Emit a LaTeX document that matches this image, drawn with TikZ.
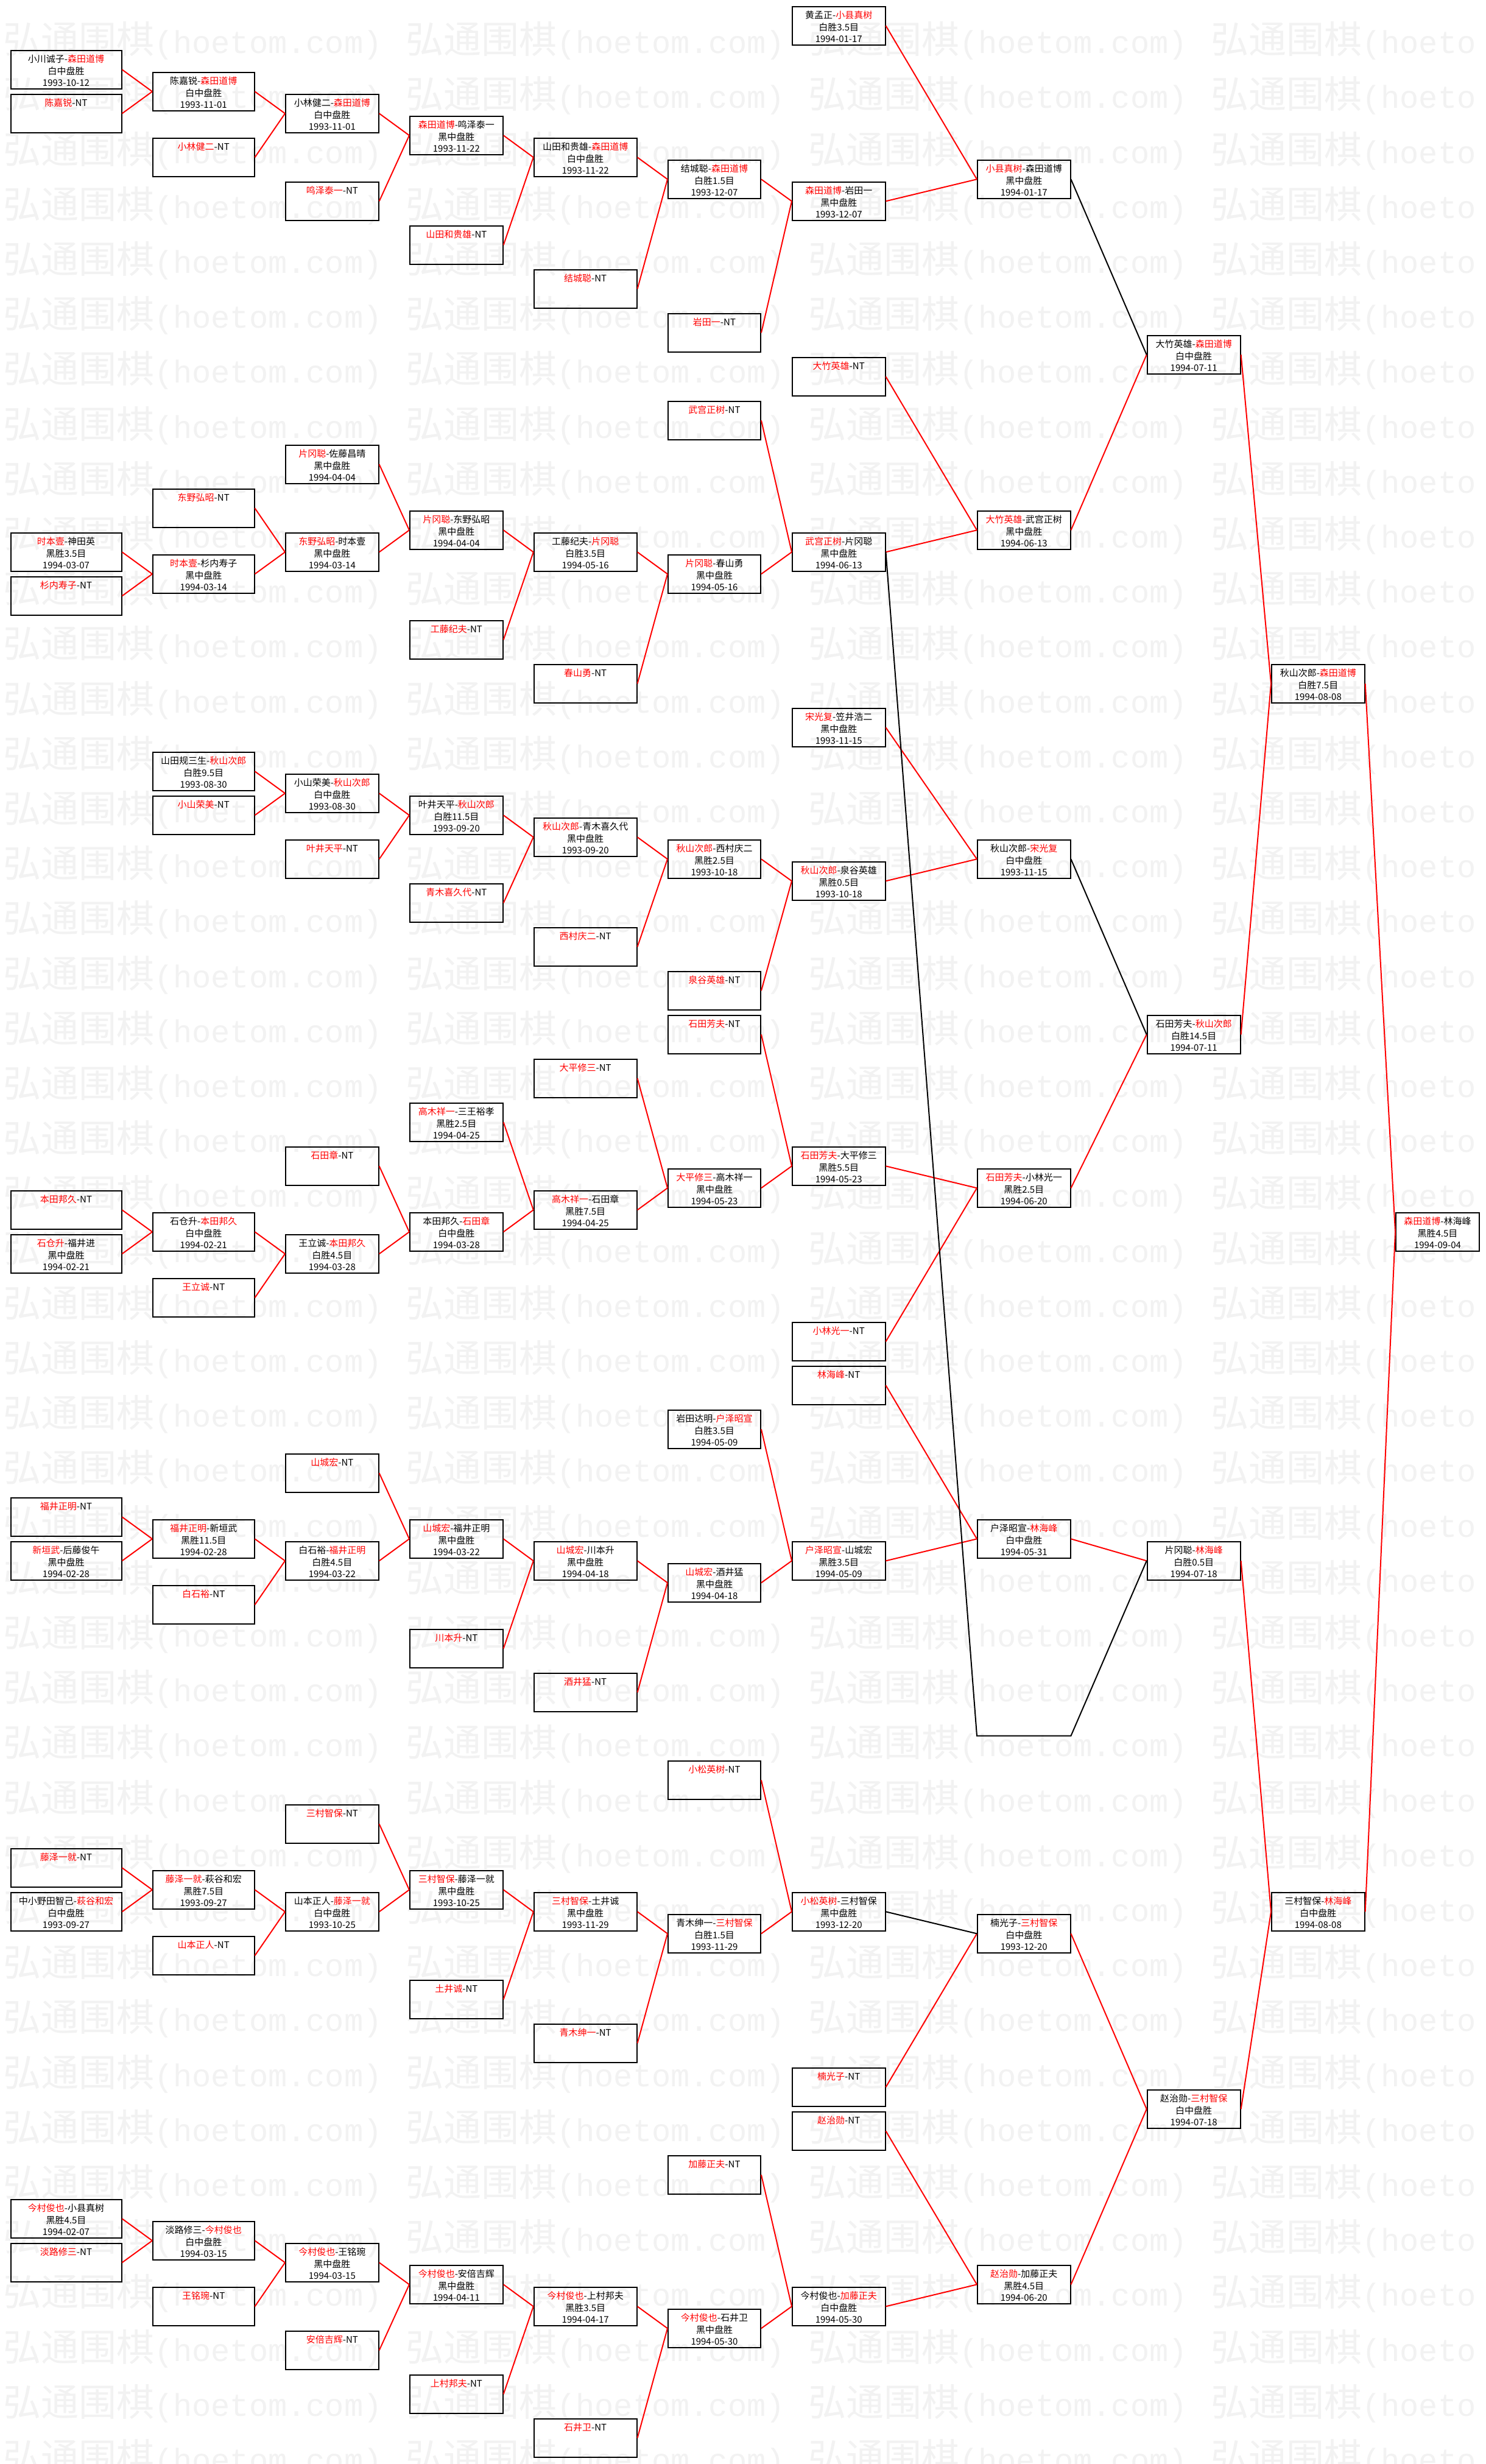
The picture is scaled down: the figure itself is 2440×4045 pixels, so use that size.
\documentclass[tikz,border=0pt]{standalone}
\usepackage{fontspec}
\setmainfont{Noto Sans CJK SC}
\newfontfamily\wmmono{Liberation Mono}
\newcommand\rd[1]{\textcolor{red}{#1}}
% column centres and box widths (px = pt)
\def\cxA{108.5}\def\cwA{182}
\def\cxB{334.25}\def\cwB{166.5}
\def\cxC{545.35}\def\cwC{152.7}
\def\cxD{749.35}\def\cwD{152.7}
\def\cxE{961.2}\def\cwE{168.8}
\def\cxF{1173}\def\cwF{152}
\def\cxG{1377.25}\def\cwG{152.5}
\def\cxH{1681.25}\def\cwH{152.5}
\def\cxI{1960.2}\def\cwI{153}
\def\cxJ{2164.35}\def\cwJ{152.7}
\def\cxK{2360.5}\def\cwK{137}
\tikzset{
  gbox/.style={draw=black, line width=2pt, rectangle, minimum height=63pt, inner sep=0pt},
  gtxt/.style={anchor=north, align=center, inner sep=0pt, font=\fontsize{15}{19.5}\selectfont},
  rl/.style={draw=red, line width=2pt},
  bl/.style={draw=black, line width=2pt},
  wm/.style={anchor=west, inner sep=0pt, text=black!5, font=\fontsize{62}{70}\selectfont},
}
% \gm{id}{column}{half-row}{line1}{line2}{line3}
\newcommand\gm[6]{%
  \pgfmathsetmacro\gmT{9.8+36*#3}%
  \pgfmathsetmacro\gmY{\gmT+32.5}%
  \pgfmathsetmacro\gmTy{\gmT+7}%
  \edef\gmX{\csname cx#2\endcsname}%
  \edef\gmW{\csname cw#2\endcsname}%
  \node[gbox, minimum width=\gmW pt] (#1) at (\gmX,\gmY) {};
  \node[gtxt] (#1t) at (\gmX,\gmTy) {\strut #4\\\strut #5\\\strut #6};
}
\begin{document}
\begin{tikzpicture}[x=1pt,y=-1pt]
\useasboundingbox (0,0) rectangle (2440,4045);
\fill[white] (0,0) rectangle (2440,4045);
\begin{scope}
\clip (0,0) rectangle (2440,4045);
\foreach \wr in {0,...,44}{
  \foreach \wc in {0,1,2}{
    \node[wm] (wm-\wr-\wc) at ({5+661*\wc},{67+90.2*\wr}) {弘通围棋{\wmmono\fontsize{52}{60}\selectfont (hoetom.com)}};
  }
  \node[wm] (wm-\wr-3) at ({5+661*3},{67+90.2*\wr}) {弘通围棋{\wmmono\fontsize{52}{60}\selectfont (hoeto}};
}
\end{scope}

% ---------------- column A
\gm{a1}{A}{2}{小川诚子-\rd{森田道博}}{白中盘胜}{1993-10-12}
\gm{a2}{A}{4}{\rd{陈嘉锐}-NT}{}{}
\gm{a3}{A}{24}{\rd{时本壹}-神田英}{黑胜3.5目}{1994-03-07}
\gm{a4}{A}{26}{\rd{杉内寿子}-NT}{}{}
\gm{a5}{A}{54}{\rd{本田邦久}-NT}{}{}
\gm{a6}{A}{56}{\rd{石仓升}-福井进}{黑中盘胜}{1994-02-21}
\gm{a7}{A}{68}{\rd{福井正明}-NT}{}{}
\gm{a8}{A}{70}{\rd{新垣武}-后藤俊午}{黑中盘胜}{1994-02-28}
\gm{a9}{A}{84}{\rd{藤泽一就}-NT}{}{}
\gm{a10}{A}{86}{中小野田智己-\rd{萩谷和宏}}{白中盘胜}{1993-09-27}
\gm{a11}{A}{100}{\rd{今村俊也}-小县真树}{黑胜4.5目}{1994-02-07}
\gm{a12}{A}{102}{\rd{淡路修三}-NT}{}{}
% ---------------- column B
\gm{b1}{B}{3}{陈嘉锐-\rd{森田道博}}{白中盘胜}{1993-11-01}
\gm{b2}{B}{6}{\rd{小林健二}-NT}{}{}
\gm{b3}{B}{22}{\rd{东野弘昭}-NT}{}{}
\gm{b4}{B}{25}{\rd{时本壹}-杉内寿子}{黑中盘胜}{1994-03-14}
\gm{b5}{B}{34}{山田规三生-\rd{秋山次郎}}{白胜9.5目}{1993-08-30}
\gm{b6}{B}{36}{\rd{小山荣美}-NT}{}{}
\gm{b7}{B}{55}{石仓升-\rd{本田邦久}}{白中盘胜}{1994-02-21}
\gm{b8}{B}{58}{\rd{王立诚}-NT}{}{}
\gm{b9}{B}{69}{\rd{福井正明}-新垣武}{黑胜11.5目}{1994-02-28}
\gm{b10}{B}{72}{\rd{白石裕}-NT}{}{}
\gm{b11}{B}{85}{\rd{藤泽一就}-萩谷和宏}{黑胜7.5目}{1993-09-27}
\gm{b12}{B}{88}{\rd{山本正人}-NT}{}{}
\gm{b13}{B}{101}{淡路修三-\rd{今村俊也}}{白中盘胜}{1994-03-15}
\gm{b14}{B}{104}{\rd{王铭琬}-NT}{}{}
% ---------------- column C
\gm{c1}{C}{4}{小林健二-\rd{森田道博}}{白中盘胜}{1993-11-01}
\gm{c2}{C}{8}{\rd{鸣泽泰一}-NT}{}{}
\gm{c3}{C}{20}{\rd{片冈聪}-佐藤昌晴}{黑中盘胜}{1994-04-04}
\gm{c4}{C}{24}{\rd{东野弘昭}-时本壹}{黑中盘胜}{1994-03-14}
\gm{c5}{C}{35}{小山荣美-\rd{秋山次郎}}{白中盘胜}{1993-08-30}
\gm{c6}{C}{38}{\rd{叶井天平}-NT}{}{}
\gm{c7}{C}{52}{\rd{石田章}-NT}{}{}
\gm{c8}{C}{56}{王立诚-\rd{本田邦久}}{白胜4.5目}{1994-03-28}
\gm{c9}{C}{66}{\rd{山城宏}-NT}{}{}
\gm{c10}{C}{70}{白石裕-\rd{福井正明}}{白胜4.5目}{1994-03-22}
\gm{c11}{C}{82}{\rd{三村智保}-NT}{}{}
\gm{c12}{C}{86}{山本正人-\rd{藤泽一就}}{白中盘胜}{1993-10-25}
\gm{c13}{C}{102}{\rd{今村俊也}-王铭琬}{黑中盘胜}{1994-03-15}
\gm{c14}{C}{106}{\rd{安倍吉辉}-NT}{}{}
% ---------------- column D
\gm{d1}{D}{5}{\rd{森田道博}-鸣泽泰一}{黑中盘胜}{1993-11-22}
\gm{d2}{D}{10}{\rd{山田和贵雄}-NT}{}{}
\gm{d3}{D}{23}{\rd{片冈聪}-东野弘昭}{黑中盘胜}{1994-04-04}
\gm{d4}{D}{28}{\rd{工藤纪夫}-NT}{}{}
\gm{d5}{D}{36}{叶井天平-\rd{秋山次郎}}{白胜11.5目}{1993-09-20}
\gm{d6}{D}{40}{\rd{青木喜久代}-NT}{}{}
\gm{d7}{D}{50}{\rd{高木祥一}-三王裕孝}{黑胜2.5目}{1994-04-25}
\gm{d8}{D}{55}{本田邦久-\rd{石田章}}{白中盘胜}{1994-03-28}
\gm{d9}{D}{69}{\rd{山城宏}-福井正明}{黑中盘胜}{1994-03-22}
\gm{d10}{D}{74}{\rd{川本升}-NT}{}{}
\gm{d11}{D}{85}{\rd{三村智保}-藤泽一就}{黑中盘胜}{1993-10-25}
\gm{d12}{D}{90}{\rd{土井诚}-NT}{}{}
\gm{d13}{D}{103}{\rd{今村俊也}-安倍吉辉}{黑中盘胜}{1994-04-11}
\gm{d14}{D}{108}{\rd{上村邦夫}-NT}{}{}
% ---------------- column E
\gm{e1}{E}{6}{山田和贵雄-\rd{森田道博}}{白中盘胜}{1993-11-22}
\gm{e2}{E}{12}{\rd{结城聪}-NT}{}{}
\gm{e3}{E}{24}{工藤纪夫-\rd{片冈聪}}{白胜3.5目}{1994-05-16}
\gm{e4}{E}{30}{\rd{春山勇}-NT}{}{}
\gm{e5}{E}{37}{\rd{秋山次郎}-青木喜久代}{黑中盘胜}{1993-09-20}
\gm{e6}{E}{42}{\rd{西村庆二}-NT}{}{}
\gm{e7}{E}{48}{\rd{大平修三}-NT}{}{}
\gm{e8}{E}{54}{\rd{高木祥一}-石田章}{黑胜7.5目}{1994-04-25}
\gm{e9}{E}{70}{\rd{山城宏}-川本升}{黑中盘胜}{1994-04-18}
\gm{e10}{E}{76}{\rd{酒井猛}-NT}{}{}
\gm{e11}{E}{86}{\rd{三村智保}-土井诚}{黑中盘胜}{1993-11-29}
\gm{e12}{E}{92}{\rd{青木绅一}-NT}{}{}
\gm{e13}{E}{104}{\rd{今村俊也}-上村邦夫}{黑胜3.5目}{1994-04-17}
\gm{e14}{E}{110}{\rd{石井卫}-NT}{}{}
% ---------------- column F
\gm{f1}{F}{7}{结城聪-\rd{森田道博}}{白胜1.5目}{1993-12-07}
\gm{f2}{F}{14}{\rd{岩田一}-NT}{}{}
\gm{f3}{F}{18}{\rd{武宫正树}-NT}{}{}
\gm{f4}{F}{25}{\rd{片冈聪}-春山勇}{黑中盘胜}{1994-05-16}
\gm{f5}{F}{38}{\rd{秋山次郎}-西村庆二}{黑胜2.5目}{1993-10-18}
\gm{f6}{F}{44}{\rd{泉谷英雄}-NT}{}{}
\gm{f7}{F}{46}{\rd{石田芳夫}-NT}{}{}
\gm{f8}{F}{53}{\rd{大平修三}-高木祥一}{黑中盘胜}{1994-05-23}
\gm{f9}{F}{64}{岩田达明-\rd{户泽昭宣}}{白胜3.5目}{1994-05-09}
\gm{f10}{F}{71}{\rd{山城宏}-酒井猛}{黑中盘胜}{1994-04-18}
\gm{f11}{F}{80}{\rd{小松英树}-NT}{}{}
\gm{f12}{F}{87}{青木绅一-\rd{三村智保}}{白胜1.5目}{1993-11-29}
\gm{f13}{F}{98}{\rd{加藤正夫}-NT}{}{}
\gm{f14}{F}{105}{\rd{今村俊也}-石井卫}{黑中盘胜}{1994-05-30}
% ---------------- column G
\gm{g1}{G}{0}{黄孟正-\rd{小县真树}}{白胜3.5目}{1994-01-17}
\gm{g2}{G}{8}{\rd{森田道博}-岩田一}{黑中盘胜}{1993-12-07}
\gm{g3}{G}{16}{\rd{大竹英雄}-NT}{}{}
\gm{g4}{G}{24}{\rd{武宫正树}-片冈聪}{黑中盘胜}{1994-06-13}
\gm{g5}{G}{32}{\rd{宋光复}-笠井浩二}{黑中盘胜}{1993-11-15}
\gm{g6}{G}{39}{\rd{秋山次郎}-泉谷英雄}{黑胜0.5目}{1993-10-18}
\gm{g7}{G}{52}{\rd{石田芳夫}-大平修三}{黑胜5.5目}{1994-05-23}
\gm{g8}{G}{60}{\rd{小林光一}-NT}{}{}
\gm{g9}{G}{62}{\rd{林海峰}-NT}{}{}
\gm{g10}{G}{70}{\rd{户泽昭宣}-山城宏}{黑胜3.5目}{1994-05-09}
\gm{g11}{G}{86}{\rd{小松英树}-三村智保}{黑中盘胜}{1993-12-20}
\gm{g12}{G}{94}{\rd{楠光子}-NT}{}{}
\gm{g13}{G}{96}{\rd{赵治勋}-NT}{}{}
\gm{g14}{G}{104}{今村俊也-\rd{加藤正夫}}{白中盘胜}{1994-05-30}
% ---------------- column H
\gm{h1}{H}{7}{\rd{小县真树}-森田道博}{黑中盘胜}{1994-01-17}
\gm{h2}{H}{23}{\rd{大竹英雄}-武宫正树}{黑中盘胜}{1994-06-13}
\gm{h3}{H}{38}{秋山次郎-\rd{宋光复}}{白中盘胜}{1993-11-15}
\gm{h4}{H}{53}{\rd{石田芳夫}-小林光一}{黑胜2.5目}{1994-06-20}
\gm{h5}{H}{69}{户泽昭宣-\rd{林海峰}}{白中盘胜}{1994-05-31}
\gm{h6}{H}{87}{楠光子-\rd{三村智保}}{白中盘胜}{1993-12-20}
\gm{h7}{H}{103}{\rd{赵治勋}-加藤正夫}{黑胜4.5目}{1994-06-20}
% ---------------- column I
\gm{i1}{I}{15}{大竹英雄-\rd{森田道博}}{白中盘胜}{1994-07-11}
\gm{i2}{I}{46}{石田芳夫-\rd{秋山次郎}}{白胜14.5目}{1994-07-11}
\gm{i3}{I}{70}{片冈聪-\rd{林海峰}}{白胜0.5目}{1994-07-18}
\gm{i4}{I}{95}{赵治勋-\rd{三村智保}}{白中盘胜}{1994-07-18}
% ---------------- column J
\gm{j1}{J}{30}{秋山次郎-\rd{森田道博}}{白胜7.5目}{1994-08-08}
\gm{j2}{J}{86}{三村智保-\rd{林海峰}}{白中盘胜}{1994-08-08}
% ---------------- column K
\gm{k1}{K}{55}{\rd{森田道博}-林海峰}{黑胜4.5目}{1994-09-04}

% ---------------- red connectors
\foreach \s/\t in {a1/b1,a2/b1,b1/c1,b2/c1,c1/d1,c2/d1,d1/e1,d2/e1,e1/f1,e2/f1,f1/g2,f2/g2,g1/h1,g2/h1,h2/i1,g3/h2,g4/h2,f3/g4,f4/g4,e3/f4,e4/f4,d3/e3,d4/e3,c3/d3,c4/d3,b3/c4,b4/c4,a3/b4,a4/b4,
  b5/c5,b6/c5,c5/d5,c6/d5,d5/e5,d6/e5,e5/f5,e6/f5,f5/g6,f6/g6,g5/h3,g6/h3,h4/i2,g7/h4,g8/h4,f7/g7,f8/g7,e7/f8,e8/f8,d7/e8,d8/e8,c7/d8,c8/d8,b7/c8,b8/c8,a5/b7,a6/b7,
  a7/b9,a8/b9,b9/c10,b10/c10,c9/d9,c10/d9,d9/e9,d10/e9,e9/f10,e10/f10,f9/g10,f10/g10,g9/h5,g10/h5,h5/i3,
  a9/b11,a10/b11,b11/c12,b12/c12,c11/d11,c12/d11,d11/e11,d12/e11,e11/f12,e12/f12,f11/g11,f12/g11,g12/h6,h6/i4,h7/i4,g13/h7,g14/h7,f13/g14,f14/g14,e13/f14,e14/f14,d13/e13,d14/e13,c13/d13,c14/d13,b13/c13,b14/c13,a11/b13,a12/b13,
  i1/j1,i2/j1,i3/j2,i4/j2,j1/k1,j2/k1}
  {\draw[rl] (\s.east) -- (\t.west);}

% ---------------- black connectors
\draw[bl] (h1.east) -- (i1.west);
\draw[bl] (h3.east) -- (i2.west);
\draw[bl] (g11.east) -- (h6.west);
\coordinate (pk1) at (1604,2849.5);
\coordinate (pk2) at (1758.5,2849.5);
\draw[bl] (g4.east) -- (pk1) -- (pk2) -- (i3.west);
\end{tikzpicture}
\end{document}
